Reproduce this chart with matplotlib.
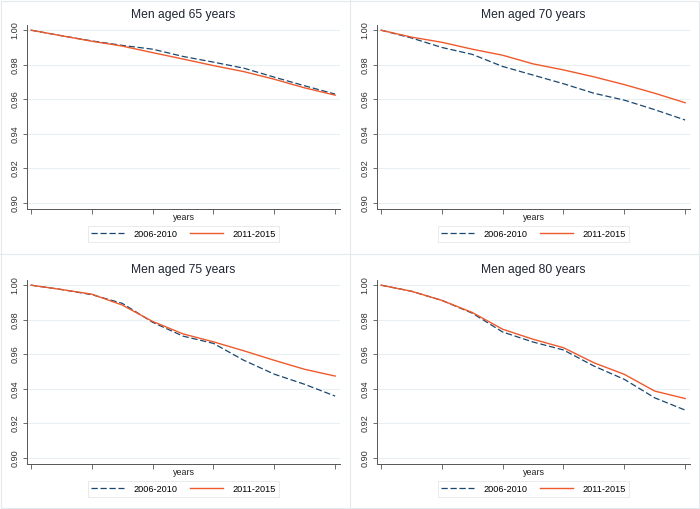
import matplotlib
matplotlib.use("Agg")
import matplotlib.pyplot as plt
from matplotlib.lines import Line2D
from matplotlib.patches import Rectangle

plt.rcParams['font.family'] = ['Liberation Sans', 'DejaVu Sans']

years = [0, 0.5, 1, 1.5, 2, 2.5, 3, 3.5, 4, 4.5, 5]
titles = ["Men aged 65 years", "Men aged 70 years", "Men aged 75 years", "Men aged 80 years"]
labels = ["2006-2010", "2011-2015"]

s65_early = [1.0, 0.9968, 0.9938, 0.9912, 0.9890, 0.9848, 0.9815, 0.9780, 0.9728, 0.9678, 0.9630]
s65_late  = [1.0, 0.9968, 0.9936, 0.9908, 0.9870, 0.9833, 0.9795, 0.9760, 0.9716, 0.9666, 0.9624]
s70_early = [1.0, 0.9955, 0.9900, 0.9860, 0.9790, 0.9740, 0.9690, 0.9635, 0.9595, 0.9540, 0.9480]
s70_late  = [1.0, 0.9960, 0.9930, 0.9890, 0.9855, 0.9805, 0.9770, 0.9730, 0.9685, 0.9635, 0.9580]
s75_early = [1.0, 0.9975, 0.9945, 0.9895, 0.9785, 0.9705, 0.9663, 0.9565, 0.9485, 0.9426, 0.9358]
s75_late  = [1.0, 0.9975, 0.9948, 0.9885, 0.9790, 0.9718, 0.9672, 0.9620, 0.9565, 0.9513, 0.9474]
s80_early = [1.0, 0.9965, 0.9912, 0.9838, 0.9729, 0.9671, 0.9625, 0.9532, 0.9455, 0.9348, 0.9277]
s80_late  = [1.0, 0.9965, 0.9912, 0.9842, 0.9745, 0.9687, 0.9638, 0.9551, 0.9484, 0.9387, 0.9344]

series = [(s65_early, s65_late), (s70_early, s70_late), (s75_early, s75_late), (s80_early, s80_late)]
yticks = [0.90, 0.92, 0.94, 0.96, 0.98, 1.00]

navy = '#1a476f'
orange = '#ee5a2c'
grid_c = '#e8eff2'

fig = plt.figure(figsize=(7, 5.09), dpi=100)
fig.patch.set_facecolor('white')

W, H = 700, 509
# axes boxes in pixel coords (left, top, right, bottom)
boxes = [(27, 25, 340, 209), (377, 25, 690, 209), (27, 280, 340, 464), (377, 280, 690, 464)]

for i, (l, t, r, b) in enumerate(boxes):
    ax = fig.add_axes([l / W, 1 - b / H, (r - l) / W, (b - t) / H])
    early, late = series[i]
    ax.plot(years, early, color=navy, lw=0.9, ls=(0, (5, 2.2)), label=labels[0])
    ax.plot(years, late, color=orange, lw=1.0, ls='-', label=labels[1])
    ax.set_xlim(-0.066, 5.08)
    ax.set_ylim(0.8965, 1.003)
    ax.set_yticks(yticks)
    ax.set_yticklabels([f"{v:.2f}" for v in yticks], rotation=90, va='center', fontsize=6.6, color='#333333')
    ax.set_xticks(years[::2])
    ax.set_xticklabels([])
    ax.tick_params(axis='y', length=3, width=0.6, color='#555555', pad=2.5)
    ax.tick_params(axis='x', length=3.5, width=0.6, color='#555555')
    for s in ['top', 'right']:
        ax.spines[s].set_visible(False)
    for s in ['left', 'bottom']:
        ax.spines[s].set_color('#555555')
        ax.spines[s].set_linewidth(0.7)
    ax.grid(axis='y', color=grid_c, lw=0.8)
    ax.set_axisbelow(True)
    ax.set_title(titles[i], fontsize=8.7, color='#1e2533', pad=5)
    ax.set_xlabel("years", fontsize=6.4, color='#222222', va='center')
    ax.xaxis.set_label_coords(0.5, -0.044)
    leg = ax.legend(loc='center', bbox_to_anchor=(0.5, -0.137), ncol=2, fontsize=6.6,
                    frameon=True, fancybox=False, edgecolor='#dde1e4', handlelength=3.6,
                    columnspacing=1.4, handletextpad=1.0, borderpad=0.4)
    leg.get_frame().set_linewidth(0.6)

# faint panel separators
for xs, ys in [((350 / W, 350 / W), (0, 1)), ((0, 1), (1 - 254 / H, 1 - 254 / H))]:
    fig.add_artist(Line2D(xs, ys, transform=fig.transFigure, color='#e2eaee', lw=0.8))
fig.add_artist(Rectangle((0.001, 0.001), 0.997, 0.997, transform=fig.transFigure,
                         fill=False, edgecolor='#e2eaee', lw=0.8))

fig.savefig("out.png", dpi=100)
